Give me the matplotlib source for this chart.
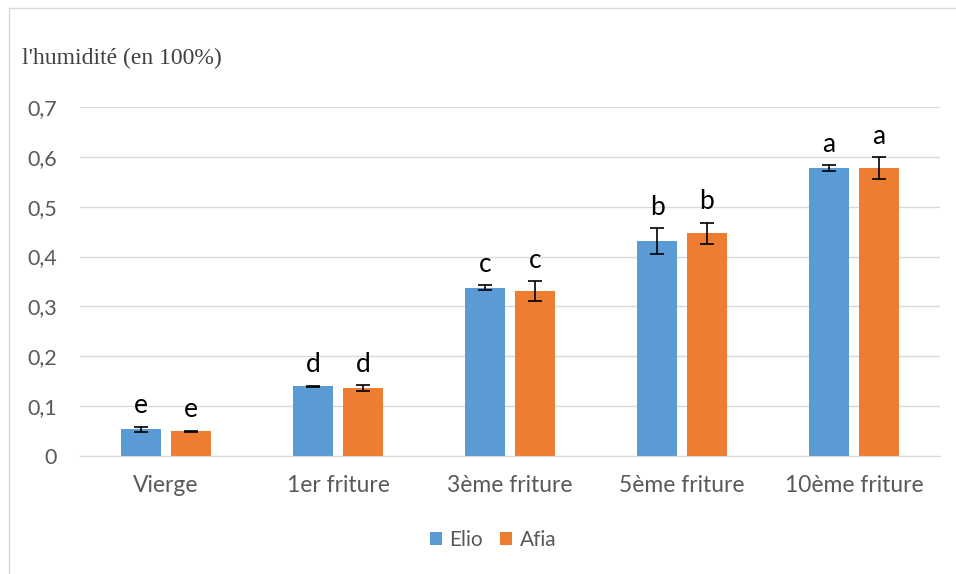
import numpy as np
import matplotlib.pyplot as plt
from matplotlib.patches import Rectangle

plt.rcParams['font.family'] = ['Lato', 'DejaVu Sans']

categories = ['Vierge', '1er friture', '3ème friture', '5ème friture', '10ème friture']
elio = [0.054, 0.140, 0.337, 0.431, 0.577]
afia = [0.050, 0.136, 0.331, 0.447, 0.577]
elio_err = [0.005, 0.001, 0.005, 0.026, 0.006]
afia_err = [0.001, 0.006, 0.020, 0.021, 0.022]
elio_letters = ['e', 'd', 'c', 'b', 'a']
afia_letters = ['e', 'd', 'c', 'b', 'a']
yticks = [0, 0.1, 0.2, 0.3, 0.4, 0.5, 0.6, 0.7]

fig = plt.figure(figsize=(9.56, 5.74), dpi=100)
fig.patches.append(Rectangle((9 / 956, -0.01), 1.0, 1 - 8 / 574 + 0.01, transform=fig.transFigure,
                             fill=False, edgecolor='#d9d9d9', linewidth=1))
ax = fig.add_axes([80 / 956, 1 - 456 / 574, 860 / 956, 349 / 574])

index = np.arange(len(categories))
bar_width = 0.23
gap = 0.06
x1 = index - (bar_width + gap) / 2
x2 = index + (bar_width + gap) / 2

ax.bar(x1, elio, bar_width, color='#5b9bd5', label='Elio', zorder=2)
ax.bar(x2, afia, bar_width, color='#ed7d31', label='Afia', zorder=2)
ax.errorbar(x1, elio, yerr=elio_err, fmt='none', ecolor='black', elinewidth=1.2, capsize=5, capthick=1.2, zorder=3)
ax.errorbar(x2, afia, yerr=afia_err, fmt='none', ecolor='black', elinewidth=1.2, capsize=5, capthick=1.2, zorder=3)

for x, v, e, t in zip(x1, elio, elio_err, elio_letters):
    ax.text(x, v + e + 0.017, t, ha='center', va='bottom', fontsize=19)
for x, v, e, t in zip(x2, afia, afia_err, afia_letters):
    ax.text(x, v + e + 0.017, t, ha='center', va='bottom', fontsize=19)

ax.set_xlim(-0.5, len(categories) - 0.5)
ax.set_ylim(0, 0.7)
ax.set_yticks(yticks)
ax.set_yticklabels([('%.1f' % v).replace('.', ',') if v else '0' for v in yticks])
ax.set_xticks(index)
ax.set_xticklabels(categories)
ax.tick_params(axis='both', length=0, labelcolor='#595959')
ax.tick_params(axis='y', pad=16.5, labelsize=15.5)
ax.tick_params(axis='x', pad=14, labelsize=16.5)
ax.yaxis.grid(True, color='#d9d9d9', linewidth=1)
ax.set_axisbelow(True)
for s in ['top', 'right', 'left']:
    ax.spines[s].set_visible(False)
ax.spines['bottom'].set_color('#d9d9d9')

fig.text(22 / 956, 1 - 58 / 574, "l'humidité (en 100%)", fontsize=17, family='Liberation Serif',
         color='#404040', va='center')

fig.legend(*ax.get_legend_handles_labels(), loc='center', bbox_to_anchor=(493 / 956, 1 - 540 / 574),
           ncol=2, frameon=False, handlelength=0.6, handleheight=0.6, handletextpad=0.35,
           columnspacing=0.8, prop={'size': 15}, labelcolor='#595959')

plt.savefig('out.png', dpi=100)
